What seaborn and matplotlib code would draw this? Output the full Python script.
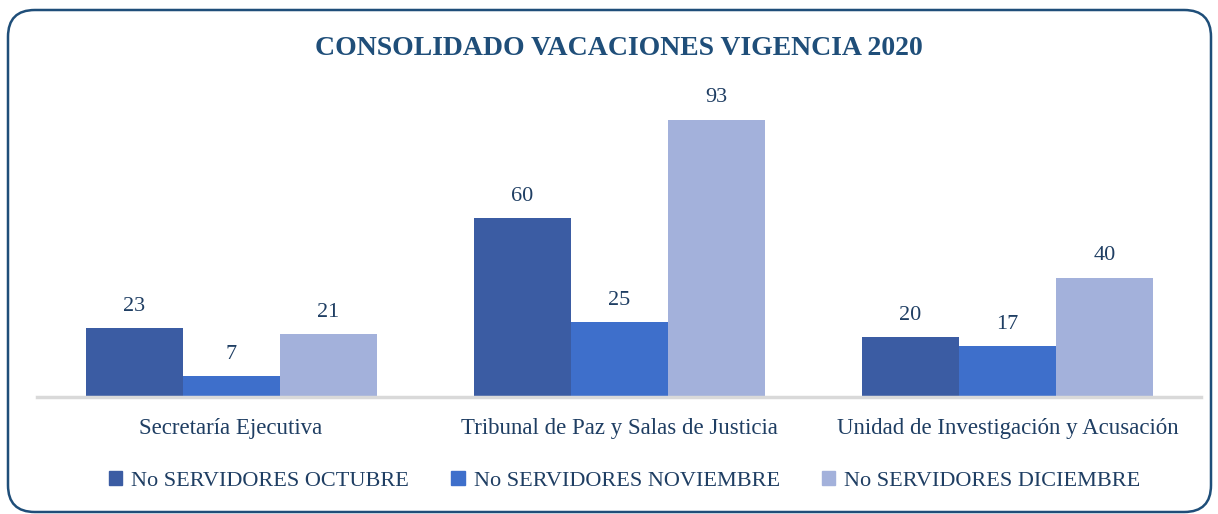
import pandas as pd
import matplotlib.pyplot as plt
import seaborn as sns
from matplotlib.patches import FancyBboxPatch

# data
areas = ["Secretaría Ejecutiva", "Tribunal de Paz y Salas de Justicia",
         "Unidad de Investigación y Acusación"]
series = ["No SERVIDORES OCTUBRE", "No SERVIDORES NOVIEMBRE", "No SERVIDORES DICIEMBRE"]
octubre = [23, 60, 20]
noviembre = [7, 25, 17]
diciembre = [21, 93, 40]
colors = ["#3B5CA3", "#3E6FCB", "#A3B1DB"]

df = pd.DataFrame({
    "area": areas * 3,
    "serie": [series[0]] * 3 + [series[1]] * 3 + [series[2]] * 3,
    "valor": octubre + noviembre + diciembre,
})

sns.set_style("white")
plt.rcParams["font.family"] = ["Liberation Serif", "DejaVu Serif"]
text_color = "#1F3E63"

fig = plt.figure(figsize=(12.18, 5.14), dpi=100)
ax = fig.add_axes([0.0304, 0.2276, 0.956, 0.58])

sns.barplot(data=df, x="area", y="valor", hue="serie", order=areas,
            hue_order=series, palette=colors, width=0.75, gap=0,
            saturation=1, ax=ax, legend=False, edgecolor="none")

for cont in ax.containers:
    ax.bar_label(cont, padding=9, fontsize=16, color=text_color)

ax.set_xlim(-0.5, 2.5)
ax.set_ylim(0, 100)
ax.set_xlabel("")
ax.set_ylabel("")
ax.set_yticks([])
ax.tick_params(axis="x", length=0, pad=15, labelsize=16.5, labelcolor=text_color)
for s in ["top", "right", "left"]:
    ax.spines[s].set_visible(False)
ax.spines["bottom"].set_color("#D9D9D9")
ax.spines["bottom"].set_linewidth(2.5)

fig.text(0.508, 0.905, "CONSOLIDADO VACACIONES VIGENCIA 2020", ha="center",
         va="center", fontsize=20, fontweight="bold", color="#1F4E79")

# legend
handles = [plt.Rectangle((0, 0), 1, 1, color=c) for c in colors]
fig.legend(handles, series, loc="center", bbox_to_anchor=(0.513, 0.064),
           ncol=3, frameon=False, fontsize=16, handlelength=0.6,
           handleheight=0.6, handletextpad=0.4, columnspacing=1.9,
           labelcolor=text_color)

# rounded border
border = FancyBboxPatch((8 / 1218, 2 / 514), 1203 / 1218, 502 / 514,
                        boxstyle="round,pad=0,rounding_size=0.022",
                        transform=fig.transFigure, fill=False,
                        edgecolor="#1F4E79", linewidth=1.8,
                        mutation_aspect=1218 / 514)
fig.patches.append(border)

fig.savefig("out.png", dpi=100)
